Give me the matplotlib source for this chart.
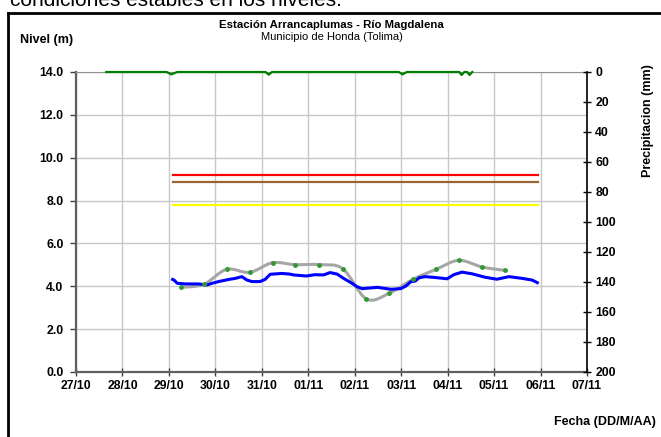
import numpy as np
import matplotlib
matplotlib.use('Agg')
import matplotlib.pyplot as plt
from matplotlib.path import Path
from matplotlib.patches import PathPatch
from matplotlib.lines import Line2D

plt.rcParams['font.family'] = ['Liberation Sans', 'DejaVu Sans']

# x axis: days counted from 27/10
date_labels = ['27/10', '28/10', '29/10', '30/10', '31/10', '01/11',
               '02/11', '03/11', '04/11', '05/11', '06/11', '07/11']

# observed level (blue)
obs_day = [2.08, 2.11, 2.18, 2.36, 2.64, 2.82, 2.93, 3.07, 3.29, 3.43, 3.57,
           3.68, 3.79, 3.96, 4.07, 4.18, 4.43, 4.60, 4.68, 4.96, 5.14, 5.33,
           5.47, 5.62, 5.76, 5.94, 6.05, 6.16, 6.49, 6.78, 6.99, 7.10, 7.21,
           7.30, 7.39, 7.52, 7.73, 7.99, 8.13, 8.31, 8.53, 8.81, 9.06, 9.32,
           9.60, 9.82, 9.93]
obs_lvl = [4.32, 4.29, 4.14, 4.11, 4.11, 4.06, 4.14, 4.22, 4.32, 4.37, 4.45,
           4.29, 4.22, 4.22, 4.32, 4.56, 4.60, 4.57, 4.53, 4.48, 4.54, 4.53,
           4.64, 4.57, 4.37, 4.14, 3.98, 3.89, 3.95, 3.86, 3.89, 4.01, 4.22,
           4.24, 4.40, 4.45, 4.41, 4.35, 4.54, 4.66, 4.58, 4.42, 4.33, 4.45,
           4.37, 4.29, 4.17]

# smoothed reference level (gray with green points)
ref_day = [2.25, 2.75, 3.24, 3.74, 4.23, 4.71, 5.24, 5.74, 6.25, 6.74, 7.25,
           7.75, 8.24, 8.74, 9.23]
ref_lvl = [3.95, 4.09, 4.79, 4.65, 5.10, 5.01, 5.01, 4.82, 3.41, 3.67, 4.32,
           4.79, 5.21, 4.90, 4.74]

# alert thresholds
thr_start, thr_end = 2.09, 9.95
thr_levels = [9.2, 8.85, 7.8]
thr_colors = ['#FF0000', '#996633', '#FFFF00']

# precipitation (mm, right axis, inverted)
precip_day = [0.65, 1.95, 2.05, 2.18, 4.08, 4.15, 4.22, 6.95, 7.03, 7.12,
              8.25, 8.30, 8.36, 8.42, 8.47, 8.53]
precip_mm = [0, 0, 1.6, 0, 0, 1.8, 0, 0, 1.6, 0, 0, 2.0, 0, 0, 2.0, 0]


def smooth_path(xs, ys):
    # excel-like smoothed line as cubic bezier segments
    pts = np.column_stack([xs, ys])
    ext = np.vstack([pts[0], pts, pts[-1]])
    verts = [pts[0]]
    codes = [Path.MOVETO]
    for i in range(1, len(ext) - 2):
        p0, p1, p2, p3 = ext[i - 1], ext[i], ext[i + 1], ext[i + 2]
        verts += [p1 + (p2 - p0) / 6, p2 - (p3 - p1) / 6, p2]
        codes += [Path.CURVE4] * 3
    return Path(verts, codes)


fig = plt.figure(figsize=(6.61, 4.37), dpi=100)
ax = fig.add_axes([76 / 661, 1 - 372 / 437, (587 - 76) / 661, 300 / 437])

ax.set_xlim(0, 11)
ax.set_ylim(0, 14)
ax.set_xticks(range(12))
ax.set_xticklabels(date_labels)
ax.set_yticks(np.arange(0, 15, 2))
ax.set_yticklabels(['%.1f' % v for v in np.arange(0, 15, 2)])
ax.grid(True, color='#C8C8C8', lw=1.0)
ax.set_axisbelow(True)

for lvl, col in zip(thr_levels, thr_colors):
    ax.plot([thr_start, thr_end], [lvl, lvl], color=col, lw=1.6)

ax.add_patch(PathPatch(smooth_path(ref_day, ref_lvl), facecolor='none',
                       edgecolor='#A6A6A6', lw=2.2, zorder=3))
ax.plot(obs_day, obs_lvl, color='#0000FF', lw=2.2, zorder=4)
ax.plot(ref_day, ref_lvl, 'o', color='#339933', ms=2.5, zorder=5)

for s in ['left', 'bottom']:
    ax.spines[s].set_color('#606060')
    ax.spines[s].set_linewidth(1.6)
ax.spines['top'].set_color('#909090')
ax.spines['top'].set_linewidth(0.8)
ax.spines['right'].set_visible(False)

ax.tick_params(axis='x', direction='inout', length=6, width=1,
               colors='#404040', labelcolor='black', pad=3)
ax.tick_params(axis='y', direction='out', length=4, width=1,
               colors='#404040', labelcolor='black', pad=5)
for lab in ax.get_xticklabels() + ax.get_yticklabels():
    lab.set_fontweight('bold')
    lab.set_fontsize(8.8)

ax2 = ax.twinx()
ax2.set_ylim(200, 0)
ax2.set_yticks(range(0, 201, 20))
ax2.plot(precip_day, precip_mm, color='#008000', lw=1.6, clip_on=False)
for s in ['left', 'bottom', 'top']:
    ax2.spines[s].set_visible(False)
ax2.spines['right'].set_color('black')
ax2.spines['right'].set_linewidth(1.2)
ax2.tick_params(axis='y', direction='inout', length=6, width=1, pad=3)
for lab in ax2.get_yticklabels():
    lab.set_fontweight('bold')
    lab.set_fontsize(8.8)

# titles and axis captions
cx = (76 + 587) / 2 / 661
fig.text(cx, 1 - 25 / 437, 'Estación Arrancaplumas - Río Magdalena',
         ha='center', va='center', fontsize=8.2, fontweight='bold')
fig.text(cx, 1 - 37 / 437, 'Municipio de Honda (Tolima)',
         ha='center', va='center', fontsize=8)
fig.text(20 / 661, 1 - 40 / 437, 'Nivel (m)', ha='left', va='center',
         fontsize=9, fontweight='bold')
fig.text(648 / 661, 1 - 121 / 437, 'Precipitacion (mm)', rotation=90,
         ha='center', va='center', fontsize=9, fontweight='bold')
fig.text(656 / 661, 1 - 422 / 437, 'Fecha (DD/M/AA)', ha='right',
         va='center', fontsize=9, fontweight='bold')

# text of the page above the chart, cut by the crop
fig.text(10 / 661, 1 - 6.5 / 437, 'condiciones estables en los niveles.',
         ha='left', va='baseline', fontsize=15)

# black frame around the chart (top and left visible)
fig.add_artist(Line2D([8 / 661, 1], [1 - 13 / 437, 1 - 13 / 437],
                      transform=fig.transFigure, color='black', lw=2))
fig.add_artist(Line2D([8 / 661, 8 / 661], [0, 1 - 13 / 437],
                      transform=fig.transFigure, color='black', lw=2))

fig.savefig('out.png', dpi=100)
